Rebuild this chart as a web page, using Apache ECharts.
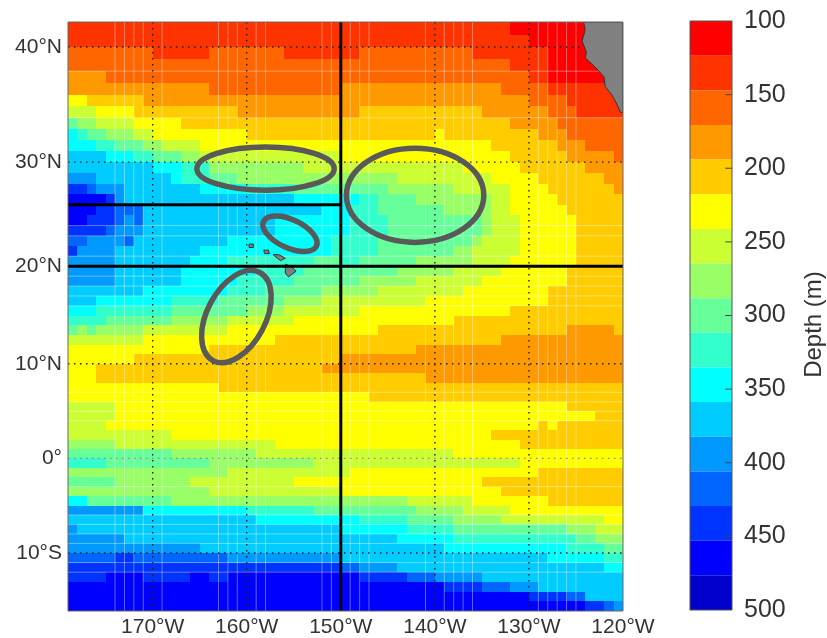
<!DOCTYPE html>
<html><head><meta charset="utf-8">
<style>html,body{margin:0;padding:0;background:#fff}#c{width:827px;height:638px}</style>
<script src="https://cdn.jsdelivr.net/npm/echarts@6/dist/echarts.min.js"></script>
</head><body><div id="c"></div>
<script>
// Tick labels and axis limits
const lonMin = -179, lonMax = -120, latMax = 42, latMin = -16;
const lonTicks = [-170,-160,-150,-140,-130,-120];
const lonLabels = ['170°W','160°W','150°W','140°W','130°W','120°W'];
const lonGrid = [-170,-160,-140,-130];
const latTicks = [-10,0,10,20,30,40];
const latLabels = ['10°S','0°','10°N','20°N','30°N','40°N'];
const barTicks = [150,200,250,300,350,400,450];
// Colour levels of the colour bar (17 steps, 100 to 500 m)
const levelColors = ['#ff0000','#ff3300','#ff6600','#ff9900','#ffcc00','#ffff00','#ccff33','#99ff66','#66ff99','#33ffcc','#00ffff','#00ccff','#0099ff','#0066ff','#0033ff','#0000ff','#0000cc'];
// Depth per 1-degree row, named by the row's northern latitude; flat pairs: depth, end column (1-degree columns from 179W)
const n42=[135,47,112,55];
const n41=[135,49,112,55];
const n40=[159,9,135,15,159,23,135,31,159,43,135,51,112,56];
const n39=[159,47,135,51,112,57];
const n38=[182,4,159,49,135,51,112,58];
const n37=[182,15,159,29,182,46,159,51,135,58];
const n36=[229,2,206,8,182,49,159,53,135,59];
const n35=[253,3,229,7,206,18,182,31,206,44,182,51,159,54,135,59];
const n34=[300,1,276,3,253,7,229,12,206,47,182,52,159,59];
const n33=[347,1,324,2,300,4,276,7,253,9,229,19,206,39,229,40,206,50,182,53,159,59];
const n32=[347,3,324,5,300,8,276,10,253,14,229,45,206,52,182,55,159,59];
const n31=[371,4,347,7,324,9,300,12,276,14,253,29,229,47,206,53,182,58,159,59];
const n30=[371,9,347,12,324,15,276,25,253,42,229,48,206,55,182,59];
const n29=[394,3,371,11,347,12,324,15,300,18,276,35,253,45,229,50,206,57,182,59];
const n28=[441,2,418,3,394,6,371,14,347,19,324,24,300,34,276,41,253,47,229,51,206,58,182,59];
const n27=[465,4,441,5,394,6,371,24,347,31,324,33,300,37,276,45,253,47,229,52,206,59];
const n26=[465,3,441,5,418,8,371,27,347,30,324,33,300,40,276,45,253,47,229,53,206,59];
const n25=[465,2,441,5,418,6,394,7,418,8,371,22,347,30,324,34,300,44,276,45,253,48,229,54,206,59];
const n24=[441,4,418,5,394,8,371,22,347,30,324,34,300,44,276,45,253,48,229,54,206,59];
const n23=[418,2,394,6,418,7,371,17,347,28,324,33,300,43,276,44,253,48,229,54,206,59];
const n22=[441,1,394,5,371,14,347,28,324,33,300,41,276,43,253,48,229,54,206,59];
const n21=[394,5,371,13,347,17,324,26,300,29,324,31,300,37,276,43,253,47,229,54,206,59];
const n20=[394,5,371,12,347,20,324,25,300,35,276,41,253,46,229,53,206,59];
const n19=[394,5,371,12,347,18,324,24,300,31,276,37,253,44,229,53,206,59];
const n18=[371,8,347,17,324,21,300,27,276,33,253,42,229,51,206,59];
const n17=[371,3,347,11,324,16,300,23,276,27,253,38,229,51,206,59];
const n16=[347,3,324,11,300,19,276,23,253,31,229,47,206,59];
const n15=[324,4,300,11,276,17,253,24,229,41,206,59];
const n14=[300,1,276,2,300,3,276,8,253,17,229,33,206,53,182,58,206,59];
const n13=[253,8,229,22,206,46,182,59];
const n12=[229,15,206,37,182,59];
const n11=[229,7,206,29,182,59];
const n10=[229,3,206,27,182,59];
const n9=[229,3,206,38,182,59];
const n8=[229,16,206,59];
const n7=[229,32,206,59];
const n6=[253,5,229,53,206,59];
const n5=[253,5,229,56,206,59];
const n4=[253,4,229,50,206,51,229,52,206,59];
const n3=[253,11,229,45,206,59];
const n2=[276,5,253,22,229,48,206,59];
const n1=[300,11,276,20,253,41,229,59];
const eq=[324,4,300,15,276,26,253,48,229,59];
const s1=[276,17,253,30,229,50,206,59];
const s2=[300,5,276,13,253,24,229,44,206,59];
const s3=[276,15,253,29,229,46,206,59];
const s4=[347,2,300,11,276,36,253,43,229,51,206,59];
const s5=[394,8,347,19,324,26,300,37,276,42,253,47,229,59];
const s6=[371,20,347,31,324,36,300,41,276,46,253,57,229,59];
const s7=[394,1,371,29,347,36,324,41,300,53,276,56,253,59];
const s8=[394,6,371,35,347,41,324,54,300,56,276,59];
const s9=[394,14,371,40,347,53,324,57,300,59];
const s10=[418,5,441,7,418,17,394,29,371,51,347,57,324,59];
const s11=[441,29,418,31,394,35,371,57,347,59];
const s12=[441,4,465,8,441,13,465,15,441,17,465,31,441,36,418,39,394,44,371,59];
const s13=[465,40,441,44,418,47,394,50,371,59];
const s14=[465,49,441,53,418,55,371,59];
const s15=[465,55,441,57,418,58,394,59];
const depthRows=[n42,n41,n40,n39,n38,n37,n36,n35,n34,n33,n32,n31,n30,n29,n28,n27,n26,n25,n24,n23,n22,n21,n20,n19,n18,n17,n16,n15,n14,n13,n12,n11,n10,n9,n8,n7,n6,n5,n4,n3,n2,n1,eq,s1,s2,s3,s4,s5,s6,s7,s8,s9,s10,s11,s12,s13,s14,s15];
// Faint seams visible between cells
const seamLons=[-174,-173,-172,-171,-169,-163,-162,-161,-159,-158,-152,-151,-149,-148,-147,-141,-139,-138,-137,-136,-129,-128,-127,-126,-125];
const seamLats=[38,34,24,23,21,19,18,17,16,7,6,5,4,-3,-6,-7,-8,-9,-11,-12];
// Reference lines
const vLines=[[-150,42,-16]];
const hLines=[[20,-179,-120],[26,-179,-150]];
// Outlines: centre lon, centre lat, long radius and short radius (degrees of longitude), rotation (degrees)
const ellipses=[[-158,29.4,7.3,2.3,0],[-142.1,26.9,7.3,5,0],[-155.4,23.2,3.1,1.5,-25],[-161.1,14.9,5.3,3.1,62]];
// Land outlines
const mainland=[[-124.2,42],[-124,41.4],[-124.35,40.5],[-123.9,39.55],[-124,39.1],[-123.1,38.45],[-122.6,38.03],[-122,37.5],[-121.9,36.7],[-121.2,36],[-120.6,35.1],[-120.3,34.5],[-120,34.45],[-120,42]];
const hawaii=[[-155.9,20.2],[-155.3,20],[-154.75,19.5],[-155.56,18.93],[-155.9,19.3]];
const maui=[[-157.2,21.15],[-156.6,21.15],[-155.9,20.8],[-156.4,20.55],[-156.9,20.9]];
const oahu=[[-158.2,21.6],[-157.7,21.6],[-157.6,21.25],[-158.1,21.25]];
const kauai=[[-159.75,22.2],[-159.3,22.2],[-159.3,21.85],[-159.75,21.85]];
const landShapes=[mainland,hawaii,maui,oahu,kauai];

const merc=lat=>Math.log(Math.tan(Math.PI/4+lat*Math.PI/360))*180/Math.PI;
const step=(500-100)/levelColors.length;
const colorOf=d=>levelColors[Math.min(levelColors.length-1,Math.floor((d-100)/step))];

const cells=[];
depthRows.forEach((runs,r)=>{
  let col=0;
  for(let i=0;i<runs.length;i+=2){
    for(;col<runs[i+1];col++) cells.push([lonMin+col,latMax-r,runs[i]]);
  }
});
const bandData=levelColors.map((c,i)=>[100+i*step,100+(i+1)*step]);
const nearest=(ticks,labels,map)=>v=>{
  let best=0;
  ticks.forEach((t,i)=>{ if(Math.abs(map(t)-v)<Math.abs(map(ticks[best])-v)) best=i; });
  return labels[best];
};

const lineSeries=(name,segments,style,z)=>({
  type:'custom',name,coordinateSystem:'cartesian2d',xAxisIndex:0,yAxisIndex:0,z,silent:true,clip:true,
  data:segments,
  renderItem:(p,api)=>{
    const a=api.coord([api.value(0),merc(api.value(1))]),b=api.coord([api.value(2),merc(api.value(3))]);
    return {type:'line',shape:{x1:a[0],y1:a[1],x2:b[0],y2:b[1]},style:Object.assign({fill:null},style)};
  }
});

const chart=echarts.init(document.getElementById('c'),null,{renderer:'canvas'});
const textCol='#333333',font='Liberation Sans';
chart.setOption({
  animation:false,
  backgroundColor:'#fff',
  grid:[
    {left:68,top:22,width:555,height:589,show:false},
    {left:690,top:21,width:44,height:589,show:false}
  ],
  xAxis:[
    {gridIndex:0,type:'value',min:lonMin,max:lonMax,
     axisLine:{show:false},splitLine:{show:false},
     axisTick:{show:false,customValues:lonTicks},
     axisLabel:{customValues:lonTicks,formatter:nearest(lonTicks,lonLabels,l=>l),color:textCol,fontFamily:font,fontSize:21,margin:6,hideOverlap:false,showMaxLabel:true}},
    {gridIndex:1,type:'value',min:0,max:1,show:false}
  ],
  yAxis:[
    {gridIndex:0,type:'value',min:merc(latMin),max:merc(latMax),
     axisLine:{show:false},splitLine:{show:false},
     axisTick:{show:false,customValues:latTicks.map(merc)},
     axisLabel:{customValues:latTicks.map(merc),formatter:nearest(latTicks,latLabels,merc),color:textCol,fontFamily:font,fontSize:21,margin:6,padding:[5,0,0,0],hideOverlap:false}},
    {gridIndex:1,type:'value',inverse:true,min:100,max:500,interval:50,position:'right',
     axisLine:{show:false},splitLine:{show:false},
     axisTick:{show:false},
     axisLabel:{color:textCol,fontFamily:font,fontSize:25,margin:12,showMinLabel:true,showMaxLabel:true},
     name:'Depth (m)',nameLocation:'middle',nameRotate:90,nameGap:70,
     nameTextStyle:{color:textCol,fontFamily:font,fontSize:24,padding:[0,18,0,0]}}
  ],
  series:[
    {type:'custom',name:'Depth',xAxisIndex:0,yAxisIndex:0,silent:true,z:1,clip:true,
     data:cells,
     renderItem:(p,api)=>{
       const lon=api.value(0),lat=api.value(1);
       const a=api.coord([lon,merc(lat)]),b=api.coord([lon+1,merc(lat-1)]);
       const x=Math.round(a[0]),y=Math.round(a[1]);
       return {type:'rect',shape:{x,y,width:Math.round(b[0])-x,height:Math.round(b[1])-y},style:{fill:colorOf(api.value(2))}};
     }},
    lineSeries('seamV',seamLons.map(l=>[l,latMax,l,latMin]),{stroke:'rgba(255,255,255,0.38)',lineWidth:1},2),
    lineSeries('seamH',seamLats.map(l=>[lonMin,l,lonMax,l]),{stroke:'rgba(255,255,255,0.38)',lineWidth:1},2),
    lineSeries('gridV',lonGrid.map(l=>[l,latMax,l,latMin]),{stroke:'#222',lineWidth:1.4,lineDash:[1.5,4.5]},3),
    lineSeries('gridH',latTicks.filter(l=>l!==0).map(l=>[lonMin,l,lonMax,l]),{stroke:'#222',lineWidth:1.4,lineDash:[1.5,4.5]},3),
    lineSeries('equator',[[lonMin,0,lonMax,0]],{stroke:'#8a8a8a',lineWidth:1.2,lineDash:[1.5,4.5]},3),
    {type:'custom',name:'Land',xAxisIndex:0,yAxisIndex:0,silent:true,z:4,clip:true,
     data:landShapes.map((s,i)=>[i]),
     renderItem:(p,api)=>{
       const pts=landShapes[api.value(0)].map(q=>api.coord([q[0],merc(q[1])]));
       return {type:'polygon',shape:{points:pts},style:{fill:'#808080',stroke:'#333',lineWidth:1}};
     }},
    {type:'custom',name:'Outlines',xAxisIndex:0,yAxisIndex:0,silent:true,z:5,clip:true,
     data:ellipses,
     renderItem:(p,api)=>{
       const lon=api.value(0),m=merc(api.value(1));
       const c=api.coord([lon,m]),e=api.coord([lon+1,m]);
       const u=e[0]-c[0];
       return {type:'ellipse',x:c[0],y:c[1],rotation:api.value(4)*Math.PI/180,
         shape:{cx:0,cy:0,rx:api.value(2)*u,ry:api.value(3)*u},
         style:{fill:'none',stroke:'#595959',lineWidth:5.5}};
     }},
    lineSeries('lineV',vLines.map(v=>[v[0],v[1],v[0],v[2]]),{stroke:'#000',lineWidth:3},6),
    lineSeries('lineH',hLines.map(h=>[h[1],h[0],h[2],h[0]]),{stroke:'#000',lineWidth:3},6),
    {type:'custom',name:'Frame',xAxisIndex:0,yAxisIndex:0,silent:true,z:7,clip:false,
     data:[[lonMin,latMax,lonMax,latMin]],
     renderItem:(p,api)=>{
       const a=api.coord([api.value(0),merc(api.value(1))]),b=api.coord([api.value(2),merc(api.value(3))]);
       return {type:'rect',shape:{x:a[0],y:a[1],width:b[0]-a[0],height:b[1]-a[1]},style:{fill:'none',stroke:'#666',lineWidth:1}};
     }},
    {type:'custom',name:'Colour bar',xAxisIndex:1,yAxisIndex:1,silent:true,z:1,
     data:bandData,
     renderItem:(p,api)=>{
       const a=api.coord([0,api.value(0)]),b=api.coord([1,api.value(1)]);
       return {type:'rect',shape:{x:a[0],y:a[1],width:b[0]-a[0],height:b[1]-a[1]},style:{fill:levelColors[p.dataIndex]}};
     }},
    {type:'custom',name:'Colour bar ticks',xAxisIndex:1,yAxisIndex:1,silent:true,z:2,
     data:barTicks.map(v=>[v]),
     renderItem:(p,api)=>{
       const a=api.coord([0.84,api.value(0)]),b=api.coord([1,api.value(0)]);
       return {type:'line',shape:{x1:a[0],y1:a[1],x2:b[0],y2:b[1]},style:{fill:null,stroke:'#444',lineWidth:1}};
     }},
    {type:'custom',name:'Colour bar frame',xAxisIndex:1,yAxisIndex:1,silent:true,z:3,clip:false,
     data:[[100,500]],
     renderItem:(p,api)=>{
       const a=api.coord([0,api.value(0)]),b=api.coord([1,api.value(1)]);
       return {type:'rect',shape:{x:a[0],y:a[1],width:b[0]-a[0],height:b[1]-a[1]},style:{fill:'none',stroke:'#555',lineWidth:1}};
     }}
  ]
});
</script></body></html>
